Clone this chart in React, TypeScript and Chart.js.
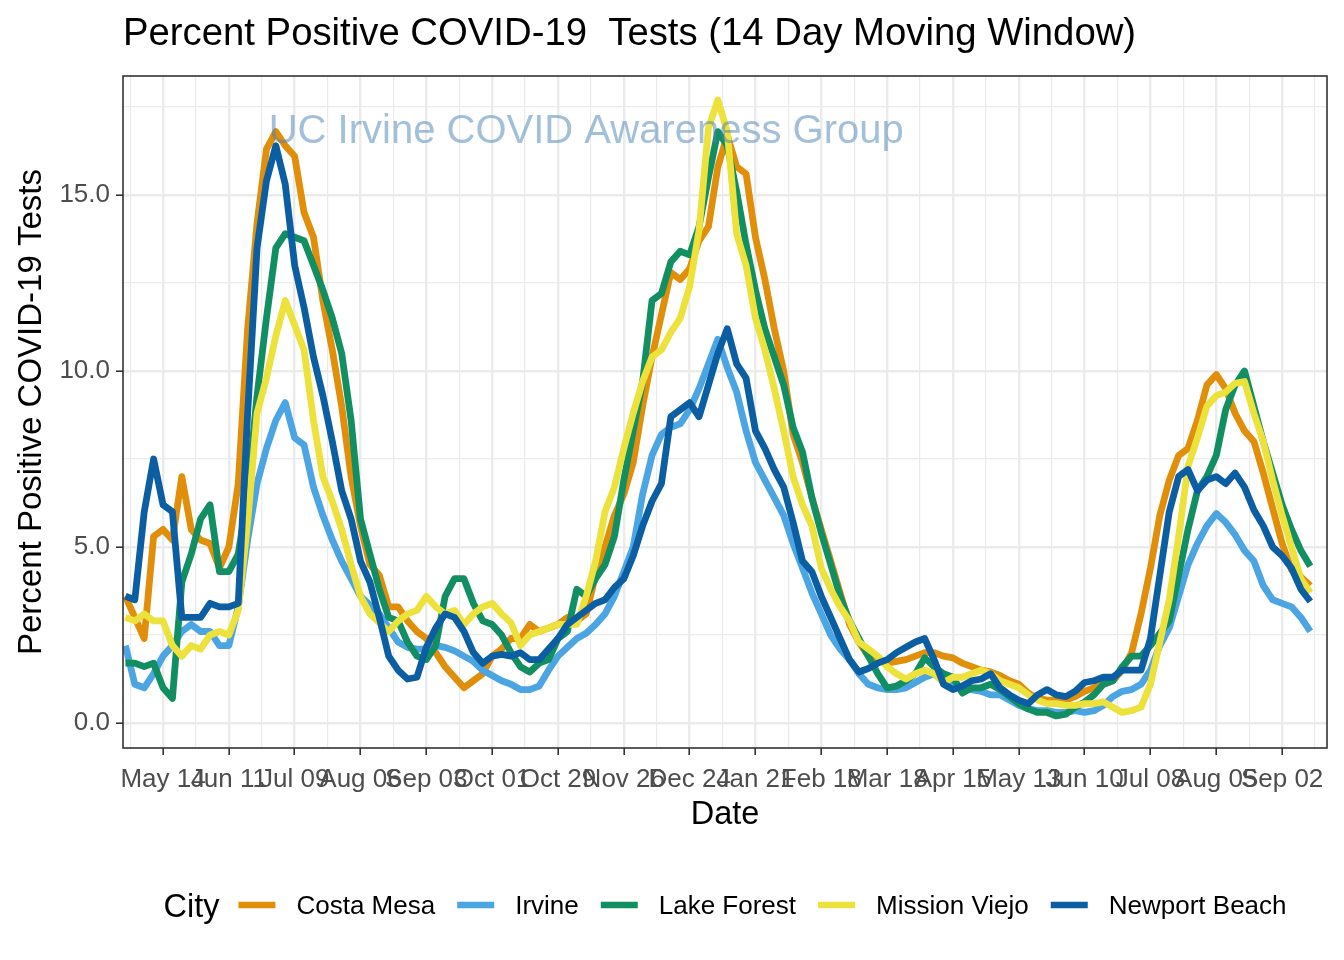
import React, { useEffect, useRef } from "react";
import { Chart, registerables } from "chart.js";

Chart.register(...registerables);

const FONT = "'Liberation Sans', Arial, Helvetica, sans-serif";

// x values are day offsets counted from 2020-05-14 (the first labelled tick)
const firstDay = -16; // 2020-04-28
const stepDays = 4;

const xTickDays = [0, 28, 56, 84, 112, 140, 168, 196, 224, 252, 280, 308, 336, 364, 392, 420, 448, 476];
const xTickLabels = [
  "May 14", "Jun 11", "Jul 09", "Aug 06", "Sep 03", "Oct 01", "Oct 29", "Nov 26", "Dec 24",
  "Jan 21", "Feb 18", "Mar 18", "Apr 15", "May 13", "Jun 10", "Jul 08", "Aug 05", "Sep 02",
];
const yTickValues = [0, 5, 10, 15];

const cities = ["Costa Mesa", "Irvine", "Lake Forest", "Mission Viejo", "Newport Beach"];
const cityColors = ["#E18E0A", "#4BA5E3", "#128F62", "#EDE13B", "#0B5EA1"];

const costaMesa = [
  3.6, 3.0, 2.4, 5.3, 5.5, 5.2, 7.0, 5.5, 5.2, 5.1,
  4.4, 5.0, 6.8, 11.2, 14.2, 16.3, 16.8, 16.4, 16.1, 14.5,
  13.8, 12.0, 10.6, 9.0, 7.0, 5.6, 4.5, 4.2, 3.3, 3.3,
  2.9, 2.6, 2.4, 2.0, 1.6, 1.3, 1.0, 1.2, 1.4, 1.9,
  2.1, 2.4, 2.4, 2.8, 2.6, 2.7, 2.8, 3.0, 2.9, 3.1,
  4.2, 5.0, 5.9, 6.5, 7.4, 9.0, 10.4, 11.6, 12.8, 12.6,
  12.9, 13.7, 14.1, 15.8, 16.7, 15.8, 15.6, 13.8, 12.6, 11.2,
  10.0, 8.2, 7.4, 6.4, 5.5, 4.6, 3.7, 2.8, 2.3, 1.9,
  1.8, 1.7, 1.75, 1.8, 1.9, 2.0, 2.0, 1.9, 1.85, 1.7,
  1.6, 1.5, 1.45, 1.35, 1.2, 1.1, 0.85, 0.7, 0.65, 0.65,
  0.65, 0.75, 0.9, 1.0, 1.1, 1.2, 1.5, 2.0, 3.1, 4.4,
  5.9, 6.9, 7.6, 7.8, 8.6, 9.6, 9.9, 9.5, 8.8, 8.3,
  8.0, 7.1, 6.1, 5.1, 4.35, 4.15, 3.9,
];

const irvine = [
  2.2, 1.1, 1.0, 1.4, 1.9, 2.2, 2.6, 2.8, 2.6, 2.6,
  2.2, 2.2, 3.3, 5.2, 6.8, 7.8, 8.6, 9.1, 8.1, 7.9,
  6.7, 5.9, 5.2, 4.6, 4.1, 3.6, 3.35, 3.1, 2.7, 2.3,
  2.15, 2.1, 2.1, 2.2, 2.15, 2.05, 1.9, 1.75, 1.5, 1.35,
  1.2, 1.1, 0.95, 0.95, 1.05, 1.5, 1.9, 2.15, 2.4, 2.55,
  2.8, 3.1, 3.6, 4.3, 5.0, 6.5, 7.6, 8.2, 8.4, 8.5,
  8.9, 9.5, 10.2, 10.9, 10.1, 9.4, 8.3, 7.4, 6.9, 6.4,
  5.9, 5.1, 4.4, 3.7, 3.1, 2.5, 2.1, 1.8, 1.4, 1.1,
  1.0, 0.95, 0.95, 1.0, 1.15, 1.3, 1.4, 1.2, 1.05, 1.0,
  0.95, 0.9, 0.8, 0.8, 0.65, 0.5, 0.4, 0.35, 0.35, 0.3,
  0.3, 0.35, 0.3, 0.35, 0.5, 0.75, 0.9, 0.95, 1.1, 1.5,
  2.2, 2.7, 3.6, 4.5, 5.1, 5.6, 5.95, 5.7, 5.35, 4.9,
  4.6, 3.9, 3.5, 3.4, 3.3, 3.0, 2.6,
];

const lakeForest = [
  1.7, 1.7, 1.6, 1.7, 1.0, 0.7, 4.0, 4.8, 5.8, 6.2,
  4.3, 4.3, 4.8, 6.5, 9.3, 11.5, 13.5, 13.9, 13.8, 13.7,
  13.0, 12.3, 11.5, 10.5, 8.6, 5.8, 4.8, 3.8, 3.0, 2.9,
  2.3, 1.9, 1.8, 2.2, 3.6, 4.1, 4.1, 3.4, 2.9, 2.8,
  2.5, 2.0, 1.6, 1.45, 1.7, 1.8, 2.4, 2.6, 3.8, 3.6,
  4.1, 4.5, 5.3, 6.9, 8.3, 9.7, 12.0, 12.2, 13.1, 13.4,
  13.3, 14.1, 15.5, 16.8, 16.4, 15.1, 13.6, 12.3, 11.2, 10.4,
  9.6, 8.4, 7.7, 6.4, 5.4, 4.5, 3.6, 2.9, 2.4, 1.9,
  1.4, 1.0, 1.05, 1.2, 1.4, 1.85, 1.6, 1.4, 1.3, 0.85,
  1.0, 1.0, 1.1, 0.95, 0.75, 0.55, 0.4, 0.3, 0.3, 0.2,
  0.25, 0.45, 0.6, 0.8, 1.1, 1.2, 1.6, 1.9, 1.9, 2.2,
  2.55, 2.9, 4.2, 5.5, 6.6, 7.0, 7.6, 8.9, 9.6, 10.0,
  9.0, 8.0, 7.1, 6.2, 5.5, 4.9, 4.45,
];

const missionViejo = [
  3.0, 2.9, 3.1, 2.9, 2.9, 2.2, 1.9, 2.2, 2.1, 2.5,
  2.6, 2.5, 3.2, 5.7, 8.8, 9.8, 11.0, 12.0, 11.3, 10.6,
  8.6, 7.0, 6.3, 5.5, 4.5, 3.6, 3.1, 2.85, 2.6, 2.9,
  3.1, 3.2, 3.6, 3.3, 3.1, 3.2, 2.8, 3.1, 3.3, 3.4,
  3.1, 2.85, 2.2, 2.5, 2.6, 2.7, 2.8, 2.8, 2.8, 3.6,
  4.6, 6.0, 6.7, 7.8, 8.8, 9.7, 10.4, 10.6, 11.1, 11.5,
  12.4, 14.0, 16.9, 17.7, 16.8, 13.9, 13.0, 11.5, 10.6, 9.5,
  8.3, 7.0, 6.2, 5.6, 4.4, 3.8, 3.3, 2.9, 2.3, 2.1,
  1.9, 1.6, 1.4, 1.25, 1.4, 1.5, 1.4, 1.15, 1.3, 1.3,
  1.4, 1.5, 1.4, 1.2, 1.1, 1.0, 0.8, 0.65, 0.55, 0.55,
  0.5, 0.5, 0.55, 0.55, 0.6, 0.45, 0.3, 0.35, 0.45, 1.1,
  2.3, 3.5, 5.3, 7.3, 8.1, 9.0, 9.3, 9.4, 9.65, 9.7,
  8.8, 8.0, 6.9, 5.9, 5.0, 4.1, 3.7,
];

const newportBeach = [
  3.6, 3.5, 6.0, 7.5, 6.2, 6.0, 3.0, 3.0, 3.0, 3.4,
  3.3, 3.3, 3.4, 8.8, 13.5, 15.4, 16.4, 15.3, 13.0, 11.8,
  10.4, 9.3, 8.0, 6.6, 5.8, 4.6, 4.0, 3.0, 1.9, 1.5,
  1.25, 1.3, 2.15, 2.7, 3.1, 3.0, 2.6, 2.0, 1.7, 1.9,
  1.95, 1.9, 2.0, 1.8, 1.8, 2.1, 2.4, 2.8, 3.0, 3.2,
  3.4, 3.5, 3.85, 4.1, 4.75, 5.6, 6.3, 6.8, 8.7, 8.9,
  9.1, 8.7, 9.6, 10.5, 11.2, 10.2, 9.8, 8.3, 7.8, 7.2,
  6.7, 5.7, 4.6, 4.3, 3.6, 3.0, 2.4, 1.8, 1.45, 1.55,
  1.7, 1.8, 2.0, 2.15, 2.3, 2.4, 1.8, 1.1, 0.95, 1.05,
  1.2, 1.25, 1.4, 1.0, 0.8, 0.65, 0.55, 0.8, 0.95, 0.8,
  0.75, 0.9, 1.15, 1.2, 1.3, 1.3, 1.5, 1.5, 1.5, 2.4,
  4.2, 6.0, 7.0, 7.2, 6.6, 6.9, 7.0, 6.8, 7.1, 6.7,
  6.05, 5.6, 5.0, 4.75, 4.4, 3.8, 3.45,
];

const titleText = "Percent Positive COVID-19  Tests (14 Day Moving Window)";
const xTitle = "Date";
const yTitle = "Percent Positive COVID-19 Tests";
const legendTitle = "City";
const watermarkText = "UC Irvine COVID Awareness Group";
const watermarkDay = 180;
const watermarkValue = 16.8;

const decorPlugin = {
  id: "decor",
  beforeDraw(chart: any) {
    const { ctx, width, height } = chart;
    ctx.save();
    ctx.fillStyle = "#ffffff";
    ctx.fillRect(0, 0, width, height);
    ctx.restore();
  },
  afterDatasetsDraw(chart: any) {
    const { ctx, chartArea: a, scales } = chart;
    ctx.save();
    ctx.font = `40px ${FONT}`;
    ctx.fillStyle = "rgba(70,130,180,0.5)";
    ctx.textAlign = "center";
    ctx.textBaseline = "middle";
    ctx.fillText(
      watermarkText,
      scales.x.getPixelForValue(watermarkDay),
      scales.y.getPixelForValue(watermarkValue)
    );
    ctx.strokeStyle = "#333333";
    ctx.lineWidth = 1.6;
    ctx.strokeRect(a.left, a.top, a.right - a.left, a.bottom - a.top);
    ctx.restore();
  },
  afterDraw(chart: any) {
    const { ctx, chartArea: a } = chart;
    const cx = (a.left + a.right) / 2;
    ctx.save();
    ctx.fillStyle = "#000000";
    // title
    ctx.font = `38.3px ${FONT}`;
    ctx.textAlign = "left";
    ctx.textBaseline = "alphabetic";
    ctx.fillText(titleText, a.left, 45);
    // x title
    ctx.font = `32.5px ${FONT}`;
    ctx.textAlign = "center";
    ctx.fillText(xTitle, cx, 824);
    // y title
    ctx.save();
    ctx.translate(41, (a.top + a.bottom) / 2);
    ctx.rotate(-Math.PI / 2);
    ctx.textAlign = "center";
    ctx.font = `33px ${FONT}`;
    ctx.fillText(yTitle, 0, 0);
    ctx.restore();
    // legend
    const keyW = 37;
    const keyGap = 21;
    const itemGap = 22;
    const titleGap = 19;
    const legY = 905;
    ctx.font = `32.5px ${FONT}`;
    const titleW = ctx.measureText(legendTitle).width;
    ctx.font = `26px ${FONT}`;
    const textW = cities.map((c) => ctx.measureText(c).width);
    let total = titleW + titleGap;
    textW.forEach((w, i) => {
      total += keyW + keyGap + w + (i < textW.length - 1 ? itemGap : 0);
    });
    let x = cx - total / 2;
    ctx.textAlign = "left";
    ctx.font = `32.5px ${FONT}`;
    ctx.fillText(legendTitle, x, legY + 11.5);
    x += titleW + titleGap;
    ctx.font = `26px ${FONT}`;
    cities.forEach((c, i) => {
      ctx.strokeStyle = cityColors[i];
      ctx.lineWidth = 6.5;
      ctx.lineCap = "butt";
      ctx.beginPath();
      ctx.moveTo(x, legY);
      ctx.lineTo(x + keyW, legY);
      ctx.stroke();
      x += keyW + keyGap;
      ctx.fillStyle = "#000000";
      ctx.fillText(c, x, legY + 9.3);
      x += textW[i] + itemGap;
    });
    ctx.restore();
  },
};

export default function App() {
  const canvasRef = useRef<HTMLCanvasElement | null>(null);

  useEffect(() => {
    document.body.style.margin = "0";
    const canvas = canvasRef.current;
    if (!canvas) return;

    const days = costaMesa.map((_, i) => firstDay + stepDays * i);
    const series = [costaMesa, irvine, lakeForest, missionViejo, newportBeach];
    const datasets = series.map((vals, k) => ({
      label: cities[k],
      data: vals.map((v, i) => ({ x: days[i], y: v })),
      borderColor: cityColors[k],
      backgroundColor: cityColors[k],
      borderWidth: 6.8,
      pointRadius: 0,
      pointHoverRadius: 0,
      tension: 0,
      borderJoinStyle: "round" as const,
      borderCapStyle: "butt" as const,
      order: series.length - k,
    }));

    const minorX = xTickDays.map((d) => d - 14).concat([xTickDays[xTickDays.length - 1] + 14]);
    const allXTicks = [...xTickDays, ...minorX].sort((p, q) => p - q);
    const allYTicks = [0, 2.5, 5, 7.5, 10, 12.5, 15, 17.5];

    const isMajorX = (v: number) => xTickDays.includes(v);
    const isMajorY = (v: number) => yTickValues.includes(v);

    const chart = new Chart(canvas, {
      type: "line",
      data: { datasets },
      plugins: [decorPlugin],
      options: {
        animation: false,
        responsive: false,
        devicePixelRatio: 1,
        events: [],
        layout: { padding: { top: 76, right: 17, bottom: 0, left: 0 } },
        plugins: {
          legend: { display: false },
          title: { display: false },
          tooltip: { enabled: false },
        },
        scales: {
          x: {
            type: "linear",
            min: -17.02,
            max: 495.1,
            afterBuildTicks: (scale: any) => {
              scale.ticks = allXTicks.map((value) => ({ value }));
            },
            afterFit: (scale: any) => {
              scale.height = 212;
            },
            border: { display: false },
            grid: {
              color: "#EBEBEB",
              lineWidth: (ctx: any) => (ctx.tick && isMajorX(ctx.tick.value) ? 2.4 : 1.2),
              drawTicks: true,
              tickLength: 7,
              tickColor: (ctx: any) =>
                ctx.tick && isMajorX(ctx.tick.value) ? "#333333" : "rgba(0,0,0,0)",
              tickWidth: 1.6,
            },
            ticks: {
              autoSkip: false,
              maxRotation: 0,
              minRotation: 0,
              padding: 9,
              color: "#4D4D4D",
              font: { family: FONT, size: 26 },
              callback: (value: any) => {
                const v = Number(value);
                const idx = xTickDays.indexOf(v);
                return idx >= 0 ? xTickLabels[idx] : "";
              },
            },
          },
          y: {
            type: "linear",
            min: -0.71,
            max: 18.38,
            afterBuildTicks: (scale: any) => {
              scale.ticks = allYTicks.map((value) => ({ value }));
            },
            afterFit: (scale: any) => {
              scale.width = 123;
            },
            border: { display: false },
            grid: {
              color: "#EBEBEB",
              lineWidth: (ctx: any) => (ctx.tick && isMajorY(ctx.tick.value) ? 2.4 : 1.2),
              drawTicks: true,
              tickLength: 7,
              tickColor: (ctx: any) =>
                ctx.tick && isMajorY(ctx.tick.value) ? "#333333" : "rgba(0,0,0,0)",
              tickWidth: 1.6,
            },
            ticks: {
              autoSkip: false,
              padding: 6,
              color: "#4D4D4D",
              font: { family: FONT, size: 26 },
              callback: (value: any) => {
                const v = Number(value);
                return isMajorY(v) ? v.toFixed(1) : "";
              },
            },
          },
        },
      },
    } as any);

    return () => {
      chart.destroy();
    };
  }, []);

  return (
    <canvas
      ref={canvasRef}
      width={1344}
      height={960}
      style={{ display: "block", width: 1344, height: 960 }}
    />
  );
}
